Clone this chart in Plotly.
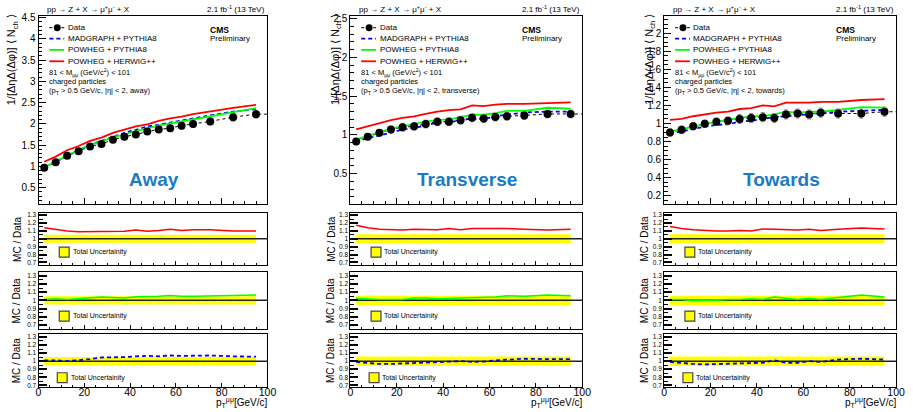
import plotly.graph_objects as go

W, H = 913, 412
FONT = "Liberation Sans, Arial, sans-serif"

# ---------------- data ----------------
x_edges = [0, 5, 10, 15, 20, 25, 30, 35, 40, 45, 50, 55, 60, 65, 70, 80, 90, 100]

away_data = [0.97, 1.10, 1.25, 1.36, 1.47, 1.53, 1.63, 1.70, 1.75, 1.82, 1.87, 1.90, 1.96, 2.00, 2.06, 2.16, 2.23]
away_err = [0.04, 0.04, 0.05, 0.05, 0.06, 0.06, 0.06, 0.07, 0.07, 0.07, 0.07, 0.08, 0.08, 0.08, 0.08, 0.09, 0.09]
away_herwig = [1.11, 1.23, 1.38, 1.48, 1.60, 1.68, 1.79, 1.86, 1.94, 1.99, 2.07, 2.13, 2.17, 2.23, 2.30, 2.38, 2.45]
away_powheg = [0.98, 1.12, 1.26, 1.39, 1.51, 1.59, 1.69, 1.75, 1.83, 1.90, 1.96, 2.01, 2.06, 2.10, 2.17, 2.28, 2.37]
away_madgraph = [0.98, 1.11, 1.25, 1.37, 1.51, 1.60, 1.70, 1.79, 1.86, 1.94, 1.98, 2.03, 2.09, 2.13, 2.20, 2.29, 2.35]
away_r_herwig = [1.14, 1.12, 1.10, 1.09, 1.09, 1.095, 1.095, 1.095, 1.11, 1.095, 1.105, 1.12, 1.105, 1.115, 1.115, 1.10, 1.10]
away_r_powheg = [1.01, 1.02, 1.01, 1.02, 1.025, 1.04, 1.035, 1.03, 1.045, 1.045, 1.05, 1.06, 1.05, 1.05, 1.055, 1.055, 1.065]
away_r_madgraph = [1.01, 1.01, 1.00, 1.01, 1.025, 1.045, 1.045, 1.05, 1.06, 1.065, 1.06, 1.07, 1.065, 1.065, 1.07, 1.06, 1.055]
away_unc = [0.05, 0.05, 0.05, 0.05, 0.05, 0.05, 0.05, 0.05, 0.05, 0.05, 0.05, 0.05, 0.05, 0.05, 0.05, 0.05, 0.05]

trans_data = [0.916, 0.976, 1.027, 1.069, 1.099, 1.11, 1.14, 1.17, 1.17, 1.19, 1.22, 1.21, 1.23, 1.24, 1.25, 1.27, 1.27]
trans_err = [0.04, 0.04, 0.04, 0.04, 0.05, 0.05, 0.05, 0.05, 0.05, 0.05, 0.05, 0.05, 0.05, 0.05, 0.05, 0.05, 0.05]
trans_herwig = [1.07, 1.11, 1.15, 1.19, 1.22, 1.24, 1.27, 1.30, 1.32, 1.33, 1.38, 1.37, 1.39, 1.40, 1.40, 1.41, 1.42]
trans_powheg = [0.94, 0.99, 1.04, 1.08, 1.11, 1.14, 1.17, 1.19, 1.20, 1.23, 1.26, 1.26, 1.28, 1.31, 1.31, 1.35, 1.34]
trans_madgraph = [0.91, 0.96, 0.99, 1.03, 1.07, 1.09, 1.12, 1.16, 1.16, 1.19, 1.21, 1.20, 1.24, 1.26, 1.29, 1.30, 1.30]
trans_r_herwig = [1.17, 1.14, 1.12, 1.115, 1.11, 1.12, 1.115, 1.115, 1.13, 1.115, 1.13, 1.13, 1.13, 1.13, 1.12, 1.11, 1.12]
trans_r_powheg = [1.025, 1.015, 1.01, 1.01, 1.01, 1.03, 1.03, 1.02, 1.025, 1.03, 1.035, 1.04, 1.04, 1.055, 1.05, 1.065, 1.055]
trans_r_madgraph = [0.99, 0.98, 0.965, 0.965, 0.97, 0.98, 0.985, 0.99, 0.99, 1.00, 0.99, 0.995, 1.01, 1.015, 1.03, 1.025, 1.025]
trans_unc = [0.057, 0.057, 0.057, 0.057, 0.057, 0.057, 0.057, 0.057, 0.058, 0.058, 0.058, 0.058, 0.058, 0.058, 0.057, 0.057, 0.057]

tow_data = [0.90, 0.93, 0.97, 0.997, 1.02, 1.03, 1.05, 1.06, 1.07, 1.06, 1.10, 1.11, 1.10, 1.12, 1.11, 1.11, 1.13]
tow_err = [0.04, 0.04, 0.04, 0.04, 0.04, 0.04, 0.05, 0.05, 0.05, 0.05, 0.05, 0.05, 0.05, 0.05, 0.05, 0.05, 0.05]
tow_herwig = [1.04, 1.05, 1.08, 1.10, 1.12, 1.13, 1.16, 1.17, 1.20, 1.19, 1.23, 1.23, 1.23, 1.24, 1.24, 1.26, 1.27]
tow_powheg = [0.91, 0.94, 0.965, 0.99, 1.02, 1.04, 1.06, 1.08, 1.08, 1.10, 1.13, 1.12, 1.13, 1.13, 1.15, 1.18, 1.175]
tow_madgraph = [0.89, 0.91, 0.94, 0.96, 0.985, 0.99, 1.02, 1.03, 1.05, 1.07, 1.08, 1.09, 1.10, 1.11, 1.13, 1.14, 1.15]
tow_r_herwig = [1.155, 1.13, 1.115, 1.105, 1.10, 1.10, 1.105, 1.10, 1.125, 1.12, 1.115, 1.11, 1.12, 1.105, 1.12, 1.135, 1.125]
tow_r_powheg = [1.01, 1.01, 0.995, 0.995, 1.00, 1.01, 1.01, 1.02, 1.01, 1.04, 1.025, 1.01, 1.025, 1.01, 1.035, 1.065, 1.04]
tow_r_madgraph = [0.99, 0.975, 0.965, 0.96, 0.965, 0.965, 0.97, 0.975, 0.98, 1.01, 0.98, 0.98, 1.00, 0.99, 1.02, 1.03, 1.02]
tow_unc = [0.057, 0.057, 0.057, 0.057, 0.057, 0.057, 0.057, 0.058, 0.058, 0.058, 0.058, 0.058, 0.058, 0.058, 0.058, 0.058, 0.058]

region_names = ["Away", "Transverse", "Towards"]
region_tags = ["away", "transverse", "towards"]
mc_labels = ["MADGRAPH + PYTHIA8", "POWHEG + PYTHIA8", "POWHEG + HERWIG++"]
main_yranges = [[0.12, 4.55], [0.11, 2.54], [0.11, 2.195]]
main_dticks = [0.5, 0.5, 0.2]
main_minor = [0.1, 0.1, 0.05]
ratio_yranges = [[0.667, 1.325], [0.652, 1.34], [0.68, 1.337]]

# ---------------- styling / geometry ----------------
BLUE = "#0000ff"
GREEN = "#00ff00"
RED = "#ff0000"
YELLOW = "#ffff00"
TITLE_BLUE = "#1a7bc4"
DASH = "4px,3px"

col_px = [(36, 268), (352, 587), (670, 905)]
row_px = [(12.7, 203.3), (212.7, 265.3), (272.7, 330.0), (335.0, 388.7)]


def px(x):
    return x / W


def py(y):
    return 1 - y / H


centers = [(a + b) / 2 for a, b in zip(x_edges[:-1], x_edges[1:])]

columns = [
    dict(data=away_data, err=away_err, herwig=away_herwig, powheg=away_powheg, madgraph=away_madgraph,
         r_herwig=away_r_herwig, r_powheg=away_r_powheg, r_madgraph=away_r_madgraph, unc=away_unc),
    dict(data=trans_data, err=trans_err, herwig=trans_herwig, powheg=trans_powheg, madgraph=trans_madgraph,
         r_herwig=trans_r_herwig, r_powheg=trans_r_powheg, r_madgraph=trans_r_madgraph, unc=trans_unc),
    dict(data=tow_data, err=tow_err, herwig=tow_herwig, powheg=tow_powheg, madgraph=tow_madgraph,
         r_herwig=tow_r_herwig, r_powheg=tow_r_powheg, r_madgraph=tow_r_madgraph, unc=tow_unc),
]

fig = go.Figure()
layout = dict(
    width=W, height=H, margin=dict(l=0, r=0, t=0, b=0),
    paper_bgcolor="white", plot_bgcolor="white", showlegend=False,
    font=dict(family=FONT, color="black"),
)
annotations = []
shapes = []


def axnames(idx):
    return ("xaxis" if idx == 1 else f"xaxis{idx}", "yaxis" if idx == 1 else f"yaxis{idx}",
            "x" if idx == 1 else f"x{idx}", "y" if idx == 1 else f"y{idx}")


for c, col in enumerate(columns):
    L, R = col_px[c]
    for r in range(4):
        idx = c * 4 + r + 1
        xk, yk, xr, yr = axnames(idx)
        T, B = row_px[r]
        is_main = r == 0
        layout[xk] = dict(
            domain=[px(L), px(R)], anchor=yr, range=[x_edges[0], x_edges[-1]],
            showline=True, linecolor="black", linewidth=1, mirror=True,
            ticks="inside", tickcolor="black", dtick=20, tick0=0,
            ticklen=6 if is_main else 4, tickwidth=1,
            minor=dict(ticks="inside", dtick=5, ticklen=3 if is_main else 2, tickcolor="black"),
            showgrid=False, zeroline=False,
            showticklabels=(r == 3), tickfont=dict(size=10.5, family=FONT, color="black"),
            ticklabelstandoff=-5,
        )
        if is_main:
            layout[yk] = dict(
                domain=[py(B), py(T)], anchor=xr, range=main_yranges[c],
                showline=True, linecolor="black", linewidth=1, mirror=True,
                ticks="inside", tickcolor="black", dtick=main_dticks[c], tick0=0,
                ticklen=7, tickwidth=1,
                minor=dict(ticks="inside", dtick=main_minor[c], ticklen=3.5, tickcolor="black"),
                showgrid=False, zeroline=False,
                tickfont=dict(size=10, family=FONT, color="black"),
            )
        else:
            layout[yk] = dict(
                domain=[py(B), py(T)], anchor=xr, range=ratio_yranges[r - 1],
                showline=True, linecolor="black", linewidth=1, mirror=True,
                ticks="inside", tickcolor="black", dtick=0.1, tick0=0,
                ticklen=8, tickwidth=1.5,
                minor=dict(ticks="inside", dtick=0.05, ticklen=4, tickcolor="black", tickwidth=1),
                showgrid=False, zeroline=False,
                tickfont=dict(size=6.5, family=FONT, color="black"),
            )

        if is_main:
            # data dotted line through bin centres, continued to the last bin edge
            fig.add_trace(go.Scatter(
                x=centers + [x_edges[-1]], y=col["data"] + [col["data"][-1]],
                mode="lines", line=dict(color="black", width=1, dash="dot"),
                xaxis=xr, yaxis=yr, hoverinfo="skip"))
            fig.add_trace(go.Scatter(
                x=centers, y=col["madgraph"], mode="lines", name=mc_labels[0],
                line=dict(color=BLUE, width=1.8, dash=DASH), xaxis=xr, yaxis=yr))
            fig.add_trace(go.Scatter(
                x=centers, y=col["powheg"], mode="lines", name=mc_labels[1],
                line=dict(color=GREEN, width=1.8), xaxis=xr, yaxis=yr))
            fig.add_trace(go.Scatter(
                x=centers, y=col["herwig"], mode="lines", name=mc_labels[2],
                line=dict(color=RED, width=1.8), xaxis=xr, yaxis=yr))
            fig.add_trace(go.Scatter(
                x=centers, y=col["data"], mode="markers", name="Data",
                marker=dict(color="black", size=8),
                error_y=dict(type="data", array=col["err"], color="#888888", thickness=1, width=2),
                xaxis=xr, yaxis=yr))
        else:
            unc = col["unc"]
            upper = [1 + u for u in unc]
            lower = [1 - u for u in unc]
            fig.add_trace(go.Scatter(
                x=centers + centers[::-1], y=upper + lower[::-1], mode="lines",
                fill="toself", fillcolor=YELLOW, line=dict(width=0, color=YELLOW),
                xaxis=xr, yaxis=yr, hoverinfo="skip"))
            fig.add_trace(go.Scatter(
                x=[x_edges[0], x_edges[-1]], y=[1, 1], mode="lines",
                line=dict(color="#222222", width=1.5), xaxis=xr, yaxis=yr, hoverinfo="skip"))
            if r == 1:
                yv, st = col["r_herwig"], dict(color=RED, width=1.5)
            elif r == 2:
                yv, st = col["r_powheg"], dict(color=GREEN, width=1.5)
            else:
                yv, st = col["r_madgraph"], dict(color=BLUE, width=1.8, dash=DASH)
            fig.add_trace(go.Scatter(x=centers, y=yv, mode="lines", line=st, xaxis=xr, yaxis=yr))

            # Total uncertainty legend box
            bx0 = L + (19 if r == 3 else 21)
            by0 = T + (34.5 if r == 1 else 39.3)
            shapes.append(dict(type="rect", xref="paper", yref="paper",
                               x0=px(bx0), x1=px(bx0 + 10), y0=py(by0 + 10), y1=py(by0),
                               fillcolor=YELLOW, line=dict(color="#444444", width=1.2)))
            annotations.append(dict(xref="paper", yref="paper", x=px(bx0 + 11.5), y=py(by0 + 5),
                                    xanchor="left", yanchor="middle", showarrow=False,
                                    text="Total Uncertainity", font=dict(size=7, family=FONT)))
            # MC / Data title
            annotations.append(dict(xref="paper", yref="paper",
                                    x=px(L - 22 if c == 0 else L - 20), y=py((T + B) / 2),
                                    xanchor="center", yanchor="middle", showarrow=False, textangle=-90,
                                    text="MC / Data", font=dict(size=10, family=FONT)))

    # ---- main panel decorations ----
    T0 = row_px[0][0]
    annotations.append(dict(xref="paper", yref="paper", x=px(L + 7), y=py(T0 + 0.5),
                            xanchor="left", yanchor="bottom", showarrow=False,
                            text="pp → Z + X → μ<sup>+</sup>μ<sup>-</sup> + X",
                            font=dict(size=8, family=FONT)))
    annotations.append(dict(xref="paper", yref="paper", x=px(R), y=py(T0 + 0.5),
                            xanchor="right", yanchor="bottom", showarrow=False,
                            text="2.1 fb<sup>-1</sup> (13 TeV)", font=dict(size=8, family=FONT)))
    annotations.append(dict(xref="paper", yref="paper", x=px(L + 172), y=py(27),
                            xanchor="left", yanchor="middle", showarrow=False,
                            text="<b>CMS</b>", font=dict(size=8.5, family=FONT)))
    annotations.append(dict(xref="paper", yref="paper", x=px(L + 172), y=py(36),
                            xanchor="left", yanchor="middle", showarrow=False,
                            text="Preliminary", font=dict(size=8, family=FONT)))
    # legend (manual, compact like ROOT)
    leg_y = [25, 36, 47.5, 59]
    lx0, lx1 = L + 11, L + 26
    shapes.append(dict(type="line", xref="paper", yref="paper", x0=px(lx0), x1=px(lx1),
                       y0=py(leg_y[0]), y1=py(leg_y[0]), line=dict(color="black", width=1, dash="dot")))
    shapes.append(dict(type="circle", xref="paper", yref="paper", x0=px(L + 15.5), x1=px(L + 22.5),
                       y0=py(leg_y[0] + 3.5), y1=py(leg_y[0] - 3.5), fillcolor="black",
                       line=dict(color="black", width=0)))
    for yy, colr, dsh in zip(leg_y[1:], [BLUE, GREEN, RED], [DASH, "solid", "solid"]):
        shapes.append(dict(type="line", xref="paper", yref="paper", x0=px(lx0), x1=px(lx1),
                           y0=py(yy), y1=py(yy), line=dict(color=colr, width=1.8, dash=dsh)))
    for yy, txt in zip(leg_y, ["Data"] + mc_labels):
        annotations.append(dict(xref="paper", yref="paper", x=px(lx1 + 1.5), y=py(yy),
                                xanchor="left", yanchor="middle", showarrow=False,
                                text=txt, font=dict(size=8, family=FONT)))
    info = ["81 &lt; M<sub>μμ</sub> (GeV/c<sup>2</sup>) &lt; 101",
            "charged particles",
            f"(p<sub>T</sub> &gt; 0.5 GeV/c, |η| &lt; 2, {region_tags[c]})"]
    for yy, txt in zip([70, 79.5, 89.5], info):
        annotations.append(dict(xref="paper", yref="paper", x=px(L + 9), y=py(yy),
                                xanchor="left", yanchor="middle", showarrow=False,
                                text=txt, font=dict(size=7.5, family=FONT)))
    # big region label
    annotations.append(dict(xref="paper", yref="paper", x=px((L + R) / 2 + 1), y=py(179),
                            xanchor="center", yanchor="middle", showarrow=False,
                            text=f"<b>{region_names[c]}</b>",
                            font=dict(size=19, family=FONT, color=TITLE_BLUE)))
    # main y title
    annotations.append(dict(xref="paper", yref="paper", x=px(L - 26 if c == 0 else L - 14), y=py(9),
                            xanchor="center", yanchor="top", showarrow=False, textangle=-90,
                            text="1/[ΔηΔ(Δφ)] ⟨ N<sub>ch</sub> ⟩", font=dict(size=11, family=FONT)))
    # x title
    annotations.append(dict(xref="paper", yref="paper", x=px(R + 2), y=py(404.5),
                            xanchor="right", yanchor="middle", showarrow=False,
                            text="p<sub>T</sub><sup>μμ</sup>[GeV/c]", font=dict(size=10, family=FONT)))

layout["annotations"] = annotations
layout["shapes"] = shapes
fig.update_layout(**layout)
# remove the browser's default 8px body margin so the figure sits at the window origin
fig.write_html("out.html", config={"displayModeBar": False},
               post_script="document.body.style.margin='0px';")
